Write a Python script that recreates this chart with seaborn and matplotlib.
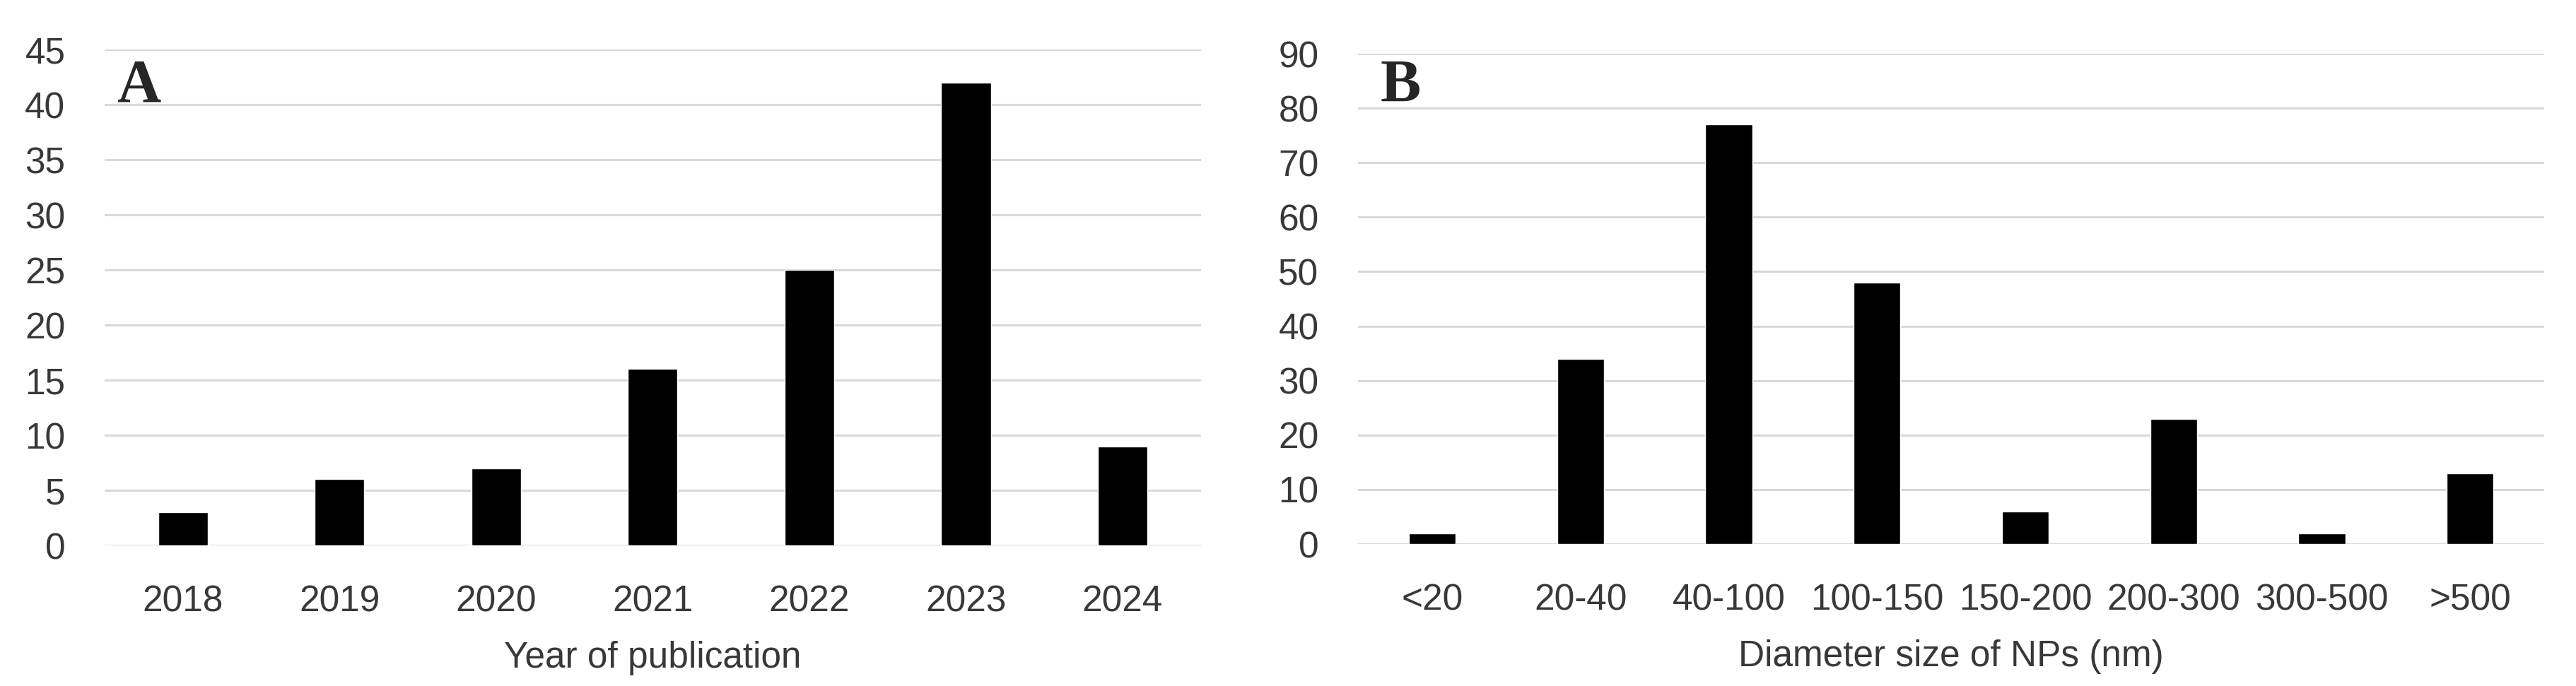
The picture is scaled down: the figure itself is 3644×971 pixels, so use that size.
import matplotlib
matplotlib.use("Agg")
import matplotlib.pyplot as plt
import seaborn as sns
import pandas as pd

# data
years = ["2018", "2019", "2020", "2021", "2022", "2023", "2024"]
year_counts = [3, 6, 7, 16, 25, 42, 9]
sizes = ["<20", "20-40", "40-100", "100-150", "150-200", "200-300", "300-500", ">500"]
size_counts = [2, 34, 77, 48, 6, 23, 2, 13]

sns.set_style("white")
plt.rcParams['font.family'] = ['Liberation Sans', 'DejaVu Sans']

fig = plt.figure(figsize=(36.44, 9.71), dpi=100)
axA = fig.add_axes([0.0406, 0.2049, 0.4256, 0.7230])
axB = fig.add_axes([0.5272, 0.2070, 0.4605, 0.7147])

df_a = pd.DataFrame({"year": years, "n": year_counts})
df_b = pd.DataFrame({"size": sizes, "n": size_counts})

sns.barplot(data=df_a, x="year", y="n", color="black", width=0.316, ax=axA, saturation=1)
sns.barplot(data=df_b, x="size", y="n", color="black", width=0.316, ax=axB, saturation=1)

txt = "#383838"
for ax, top, step, xl in [(axA, 45, 5, "Year of publication"),
                          (axB, 90, 10, "Diameter size of NPs (nm)")]:
    ax.set_ylim(0, top)
    ax.set_yticks(range(0, top + 1, step))
    ax.yaxis.grid(True, color="#d9d9d9", linewidth=2.2)
    ax.xaxis.grid(False)
    ax.set_axisbelow(True)
    for s in ax.spines.values():
        s.set_visible(False)
    ax.tick_params(axis="both", length=0, pad=40, labelsize=37, labelcolor=txt)
    ax.set_ylabel("")
    ax.set_xlabel(xl, fontsize=37, color=txt, labelpad=22)

axA.text(0.011, 0.896, "A", transform=axA.transAxes, fontsize=62, fontweight="bold",
         family="Liberation Serif", ha="left", va="baseline")
axB.text(0.0185, 0.903, "B", transform=axB.transAxes, fontsize=62, fontweight="bold",
         family="Liberation Serif", ha="left", va="baseline")

fig.savefig("out.png", dpi=100)
